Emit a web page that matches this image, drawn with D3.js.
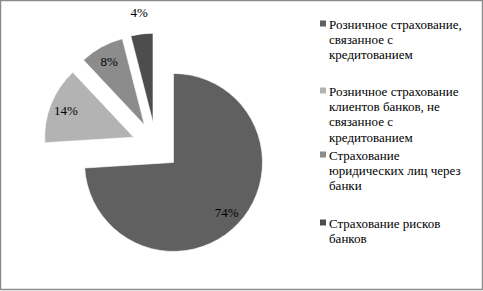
<!DOCTYPE html>
<html>
<head>
<meta charset="utf-8">
<script src="https://cdn.jsdelivr.net/npm/d3@7"></script>
<style>
  body { margin: 0; background: #fff; }
</style>
</head>
<body>
<div id="chart"></div>
<script>
// data
const categories = [
    ["Розничное страхование,", "связанное с", "кредитованием"],
    ["Розничное страхование", "клиентов банков, не", "связанное с", "кредитованием"],
    ["Страхование", "юридических лиц через", "банки"],
    ["Страхование рисков", "банков"]
];
const values = [74, 14, 8, 4];
const colors = ["#606060", "#b3b3b3", "#8c8c8c", "#4d4d4d"];

const width = 483;
const height = 291;
const cx = 156, cy = 146;
const radius = 89;
const explode = 24;
const fontFam = "Liberation Serif";

const svg = d3.select("#chart")
    .append("svg")
    .attr("width", width)
    .attr("height", height);

// outer frame
svg.append("rect")
    .attr("x", 0.5)
    .attr("y", 0.5)
    .attr("width", width - 1)
    .attr("height", height - 2)
    .attr("fill", "#fff")
    .attr("stroke", "#8c8c8c")
    .attr("stroke-width", 1.5);

const pie = d3.pie().sort(null).value(d => d);
const arcs = pie(values);
const arc = d3.arc().innerRadius(0).outerRadius(radius);

const g = svg.append("g").attr("transform", `translate(${cx},${cy})`);

function offset(d) {
    const a = (d.startAngle + d.endAngle) / 2;
    return [Math.sin(a) * explode, -Math.cos(a) * explode];
}

const slices = g.selectAll("g.slice")
    .data(arcs)
    .enter()
    .append("g")
    .attr("class", "slice")
    .attr("transform", d => `translate(${offset(d)})`);

slices.append("path")
    .attr("d", arc)
    .attr("fill", (d, i) => colors[i])
    .attr("stroke", "#fff")
    .attr("stroke-width", 0.6);

// labels: inside for big slices, outside for the tiny one
slices.append("text")
    .attr("transform", d => {
        const small = d.value < 5;
        const r = small ? radius + 22 : radius * 0.82;
        const a = (d.startAngle + d.endAngle) / 2;
        return `translate(${Math.sin(a) * r},${-Math.cos(a) * r})`;
    })
    .attr("text-anchor", "middle")
    .attr("dy", "0.35em")
    .style("font-family", fontFam)
    .attr("font-size", 13)
    .attr("fill", "#000")
    .text(d => d.value + "%");

// legend
const legendTops = [24, 91, 155, 223];
const lineH = 15.4;
const legend = svg.append("g").attr("transform", "translate(320,0)");

categories.forEach((lines, i) => {
    const item = legend.append("g").attr("transform", `translate(0,${legendTops[i]})`);
    item.append("rect")
        .attr("x", 0)
        .attr("y", -3.5)
        .attr("width", 6)
        .attr("height", 6)
        .attr("fill", colors[i]);
    lines.forEach((ln, j) => {
        item.append("text")
            .attr("x", 9)
            .attr("y", j * lineH)
            .attr("dy", "0.35em")
            .style("font-family", fontFam)
            .attr("font-size", 13)
            .attr("fill", "#000")
            .text(ln);
    });
});
</script>
</body>
</html>
